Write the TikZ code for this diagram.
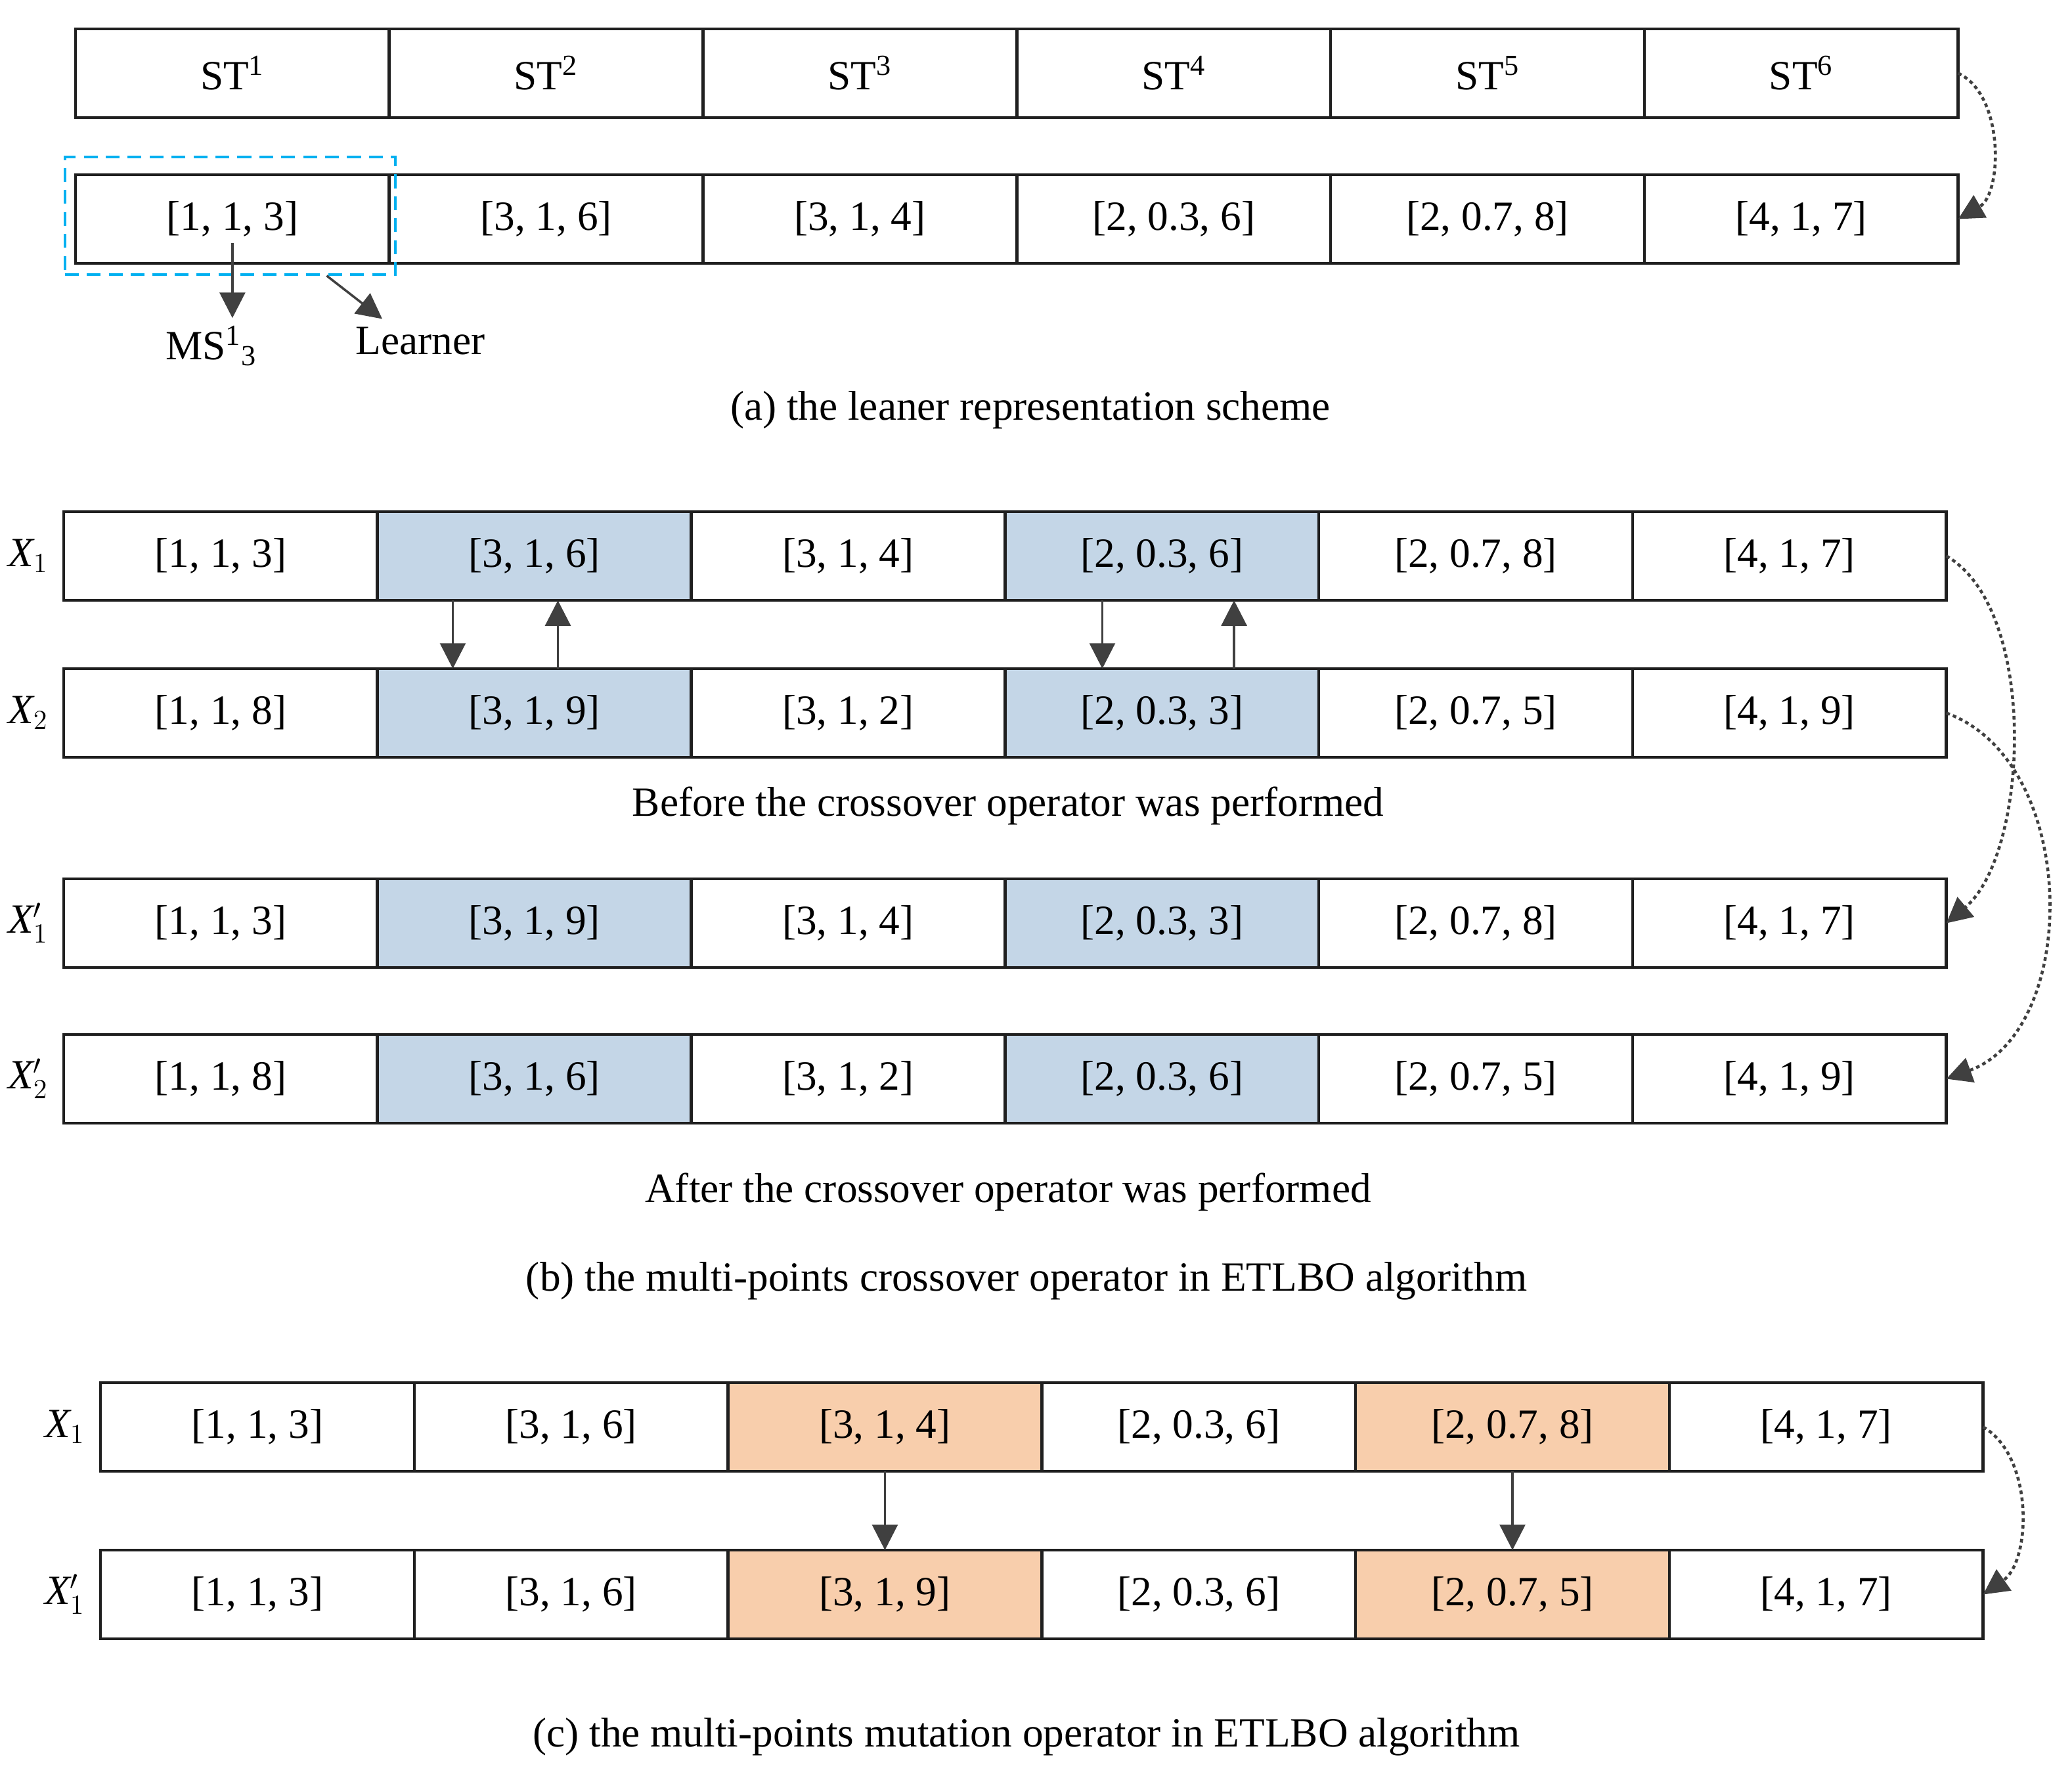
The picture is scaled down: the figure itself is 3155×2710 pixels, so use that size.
\documentclass[tikz,border=0pt]{standalone}
\usepackage{fontspec}
\setmainfont{Liberation Serif}
\usetikzlibrary{positioning,calc,arrows.meta}
\definecolor{swapblue}{RGB}{196,214,231}
\definecolor{mutorange}{RGB}{248,206,172}
\definecolor{learnercyan}{RGB}{0,176,240}
\definecolor{arrowgray}{RGB}{64,64,64}
\tikzset{
	cell/.style={draw=black!88, line width=1.3pt, minimum width=4.775cm, minimum height=1.35cm, inner sep=0pt, outer sep=0pt},
	swapcell/.style={cell, fill=swapblue},
	mutcell/.style={cell, fill=mutorange},
	learnerbox/.style={draw=learnercyan, line width=1pt, dash pattern=on 6pt off 3.5pt, minimum width=5.03cm, minimum height=1.79cm, inner sep=0pt},
	link/.style={draw=arrowgray, line width=1pt, -{Triangle[length=11pt,width=11pt]}},
	jump/.style={link, line width=1.3pt, dash pattern=on 1.6pt off 1.4pt},
	rowlabel/.style={inner sep=0pt}
}
\def\plain#1{$\mathit{X}_{#1}$}
\def\primed#1{$\mathit{X}_{#1}^{\prime}$}

\begin{document}
\begin{tikzpicture}[x=0.01cm, y=0.01cm, font=\fontsize{18}{22}\selectfont]
			%%%%% START %%%%%
			\useasboundingbox (0,0) rectangle (3155,-2710);
			
			\node[cell, anchor=north west] (a1c1) at (115,-44) {ST\textsuperscript{1}};
			\node[cell, right=0pt of a1c1] (a1c2) {ST\textsuperscript{2}};
			\node[cell, right=0pt of a1c2] (a1c3) {ST\textsuperscript{3}};
			\node[cell, right=0pt of a1c3] (a1c4) {ST\textsuperscript{4}};
			\node[cell, right=0pt of a1c4] (a1c5) {ST\textsuperscript{5}};
			\node[cell, right=0pt of a1c5] (a1c6) {ST\textsuperscript{6}};
			
			\node[cell, anchor=north west] (a2c1) at (115,-266) {[1, 1, 3]};
			\node[cell, right=0pt of a2c1] (a2c2) {[3, 1, 6]};
			\node[cell, right=0pt of a2c2] (a2c3) {[3, 1, 4]};
			\node[cell, right=0pt of a2c3] (a2c4) {[2, 0.3, 6]};
			\node[cell, right=0pt of a2c4] (a2c5) {[2, 0.7, 8]};
			\node[cell, right=0pt of a2c5] (a2c6) {[4, 1, 7]};
			
			\node[learnerbox] (lbox) at (350.5,-328.5) {};
			\node (ms) at (322,-527) {MS\textsuperscript{1}\textsubscript{3}};
			\node (lrn) at (640,-519) {Learner};
			\coordinate (lfoot) at ($(lbox.south west)!0.79!(lbox.south east)$);
			\draw[link] ($(a2c1.center)+(0,-36)$) -- (a2c1.center |- ms.north);
			\draw[link] (lfoot) -- (lrn.150);
			\draw[jump] (a1c6.east) to[out=-25, in=30, looseness=0.9] (a2c6.east);
			
			\node (capa) at (1569,-624) {(a) the leaner representation scheme};
			
			\node[cell, anchor=north west] (b1c1) at (97,-779) {[1, 1, 3]};
			\node[swapcell, right=0pt of b1c1] (b1c2) {[3, 1, 6]};
			\node[cell, right=0pt of b1c2] (b1c3) {[3, 1, 4]};
			\node[swapcell, right=0pt of b1c3] (b1c4) {[2, 0.3, 6]};
			\node[cell, right=0pt of b1c4] (b1c5) {[2, 0.7, 8]};
			\node[cell, right=0pt of b1c5] (b1c6) {[4, 1, 7]};
			
			\node[cell, anchor=north west] (b2c1) at (97,-1018) {[1, 1, 8]};
			\node[swapcell, right=0pt of b2c1] (b2c2) {[3, 1, 9]};
			\node[cell, right=0pt of b2c2] (b2c3) {[3, 1, 2]};
			\node[swapcell, right=0pt of b2c3] (b2c4) {[2, 0.3, 3]};
			\node[cell, right=0pt of b2c4] (b2c5) {[2, 0.7, 5]};
			\node[cell, right=0pt of b2c5] (b2c6) {[4, 1, 9]};
			
			\node[cell, anchor=north west] (b3c1) at (97,-1338) {[1, 1, 3]};
			\node[swapcell, right=0pt of b3c1] (b3c2) {[3, 1, 9]};
			\node[cell, right=0pt of b3c2] (b3c3) {[3, 1, 4]};
			\node[swapcell, right=0pt of b3c3] (b3c4) {[2, 0.3, 3]};
			\node[cell, right=0pt of b3c4] (b3c5) {[2, 0.7, 8]};
			\node[cell, right=0pt of b3c5] (b3c6) {[4, 1, 7]};
			
			\node[cell, anchor=north west] (b4c1) at (97,-1575) {[1, 1, 8]};
			\node[swapcell, right=0pt of b4c1] (b4c2) {[3, 1, 6]};
			\node[cell, right=0pt of b4c2] (b4c3) {[3, 1, 2]};
			\node[swapcell, right=0pt of b4c3] (b4c4) {[2, 0.3, 6]};
			\node[cell, right=0pt of b4c4] (b4c5) {[2, 0.7, 5]};
			\node[cell, right=0pt of b4c5] (b4c6) {[4, 1, 9]};
			
			\node[rowlabel, left=0.23cm of b1c1] (xb1) {\plain{1}};
			\node[rowlabel, left=0.23cm of b2c1] (xb2) {\plain{2}};
			\node[rowlabel, left=0.23cm of b3c1] (xb3) {\primed{1}};
			\node[rowlabel, left=0.23cm of b4c1] (xb4) {\primed{2}};
			
			\draw[link] ($(b1c2.south west)!0.24!(b1c2.south east)$) -- ($(b2c2.north west)!0.24!(b2c2.north east)$);
			\draw[link] ($(b2c2.north west)!0.575!(b2c2.north east)$) -- ($(b1c2.south west)!0.575!(b1c2.south east)$);
			\draw[link] ($(b1c4.south west)!0.31!(b1c4.south east)$) -- ($(b2c4.north west)!0.31!(b2c4.north east)$);
			\draw[link] ($(b2c4.north west)!0.73!(b2c4.north east)$) -- ($(b1c4.south west)!0.73!(b1c4.south east)$);
			
			\draw[jump] (b1c6.east) to[out=-30, in=40, looseness=0.75] (b3c6.east);
			\draw[jump] (b2c6.east) to[out=-20, in=20] (b4c6.east);
			
			\node (capb1) at (1535,-1227) {Before the crossover operator was performed};
			\node (capb2) at (1535,-1815) {After the crossover operator was performed};
			\node (capb) at (1563,-1950) {(b) the multi-points crossover operator in ETLBO algorithm};
			
			\node[cell, anchor=north west] (c1c1) at (153,-2105) {[1, 1, 3]};
			\node[cell, right=0pt of c1c1] (c1c2) {[3, 1, 6]};
			\node[mutcell, right=0pt of c1c2] (c1c3) {[3, 1, 4]};
			\node[cell, right=0pt of c1c3] (c1c4) {[2, 0.3, 6]};
			\node[mutcell, right=0pt of c1c4] (c1c5) {[2, 0.7, 8]};
			\node[cell, right=0pt of c1c5] (c1c6) {[4, 1, 7]};
			
			\node[cell, anchor=north west] (c2c1) at (153,-2360) {[1, 1, 3]};
			\node[cell, right=0pt of c2c1] (c2c2) {[3, 1, 6]};
			\node[mutcell, right=0pt of c2c2] (c2c3) {[3, 1, 9]};
			\node[cell, right=0pt of c2c3] (c2c4) {[2, 0.3, 6]};
			\node[mutcell, right=0pt of c2c4] (c2c5) {[2, 0.7, 5]};
			\node[cell, right=0pt of c2c5] (c2c6) {[4, 1, 7]};
			
			\node[rowlabel, left=0.23cm of c1c1] (xc1) {\plain{1}};
			\node[rowlabel, left=0.23cm of c2c1] (xc2) {\primed{1}};
			
			\draw[link] (c1c3) -- (c2c3);
			\draw[link] (c1c5) -- (c2c5);
			\draw[jump] (c1c6.east) to[out=-30, in=35, looseness=0.9] (c2c6.east);
			
			\node (capc) at (1563,-2644) {(c) the multi-points mutation operator in ETLBO algorithm};
			
			%%%%% END %%%%%
\end{tikzpicture}
\end{document}
